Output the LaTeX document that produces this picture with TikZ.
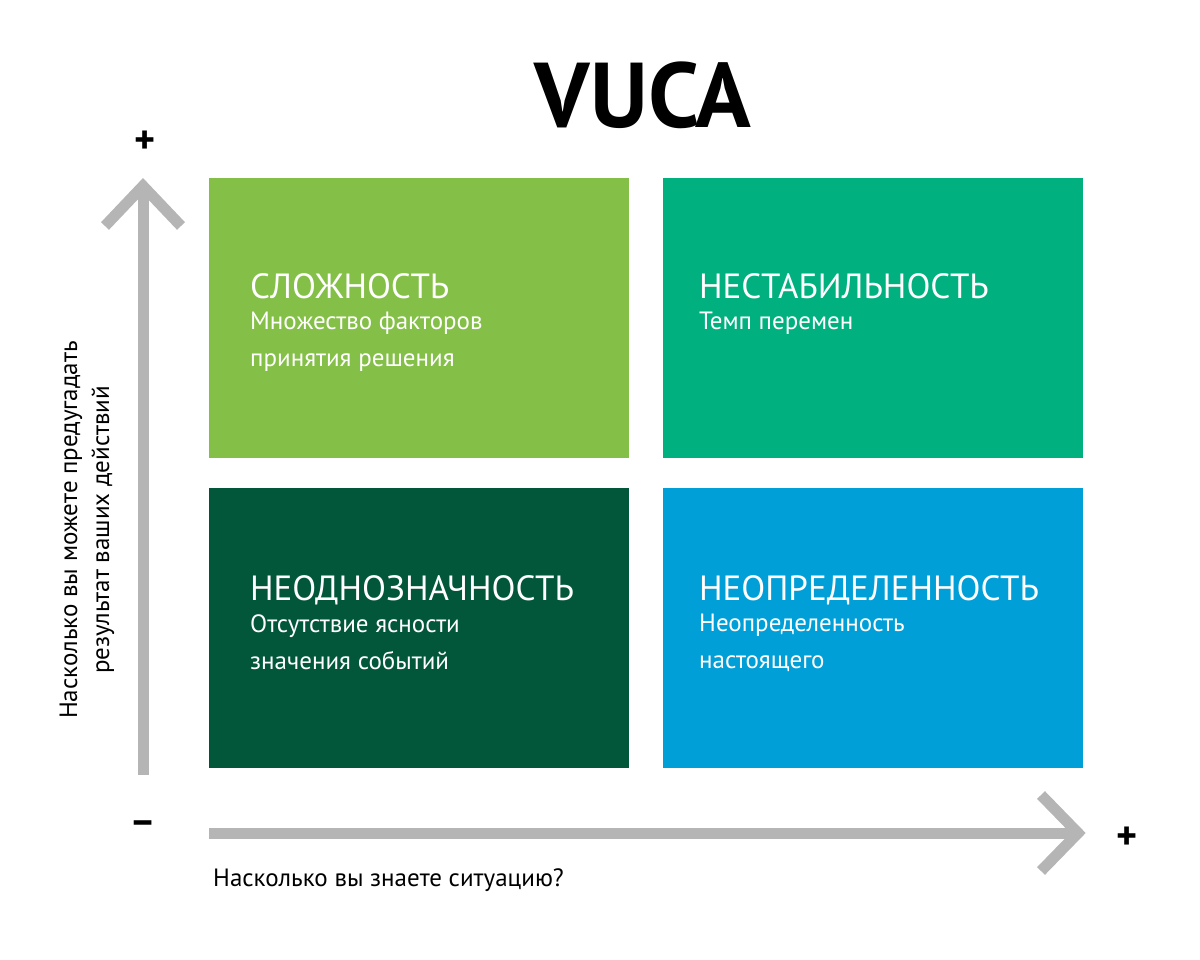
\documentclass[tikz,border=0pt]{standalone}
\usepackage{fontspec}
\setmainfont{PT Sans}
\definecolor{cLG}{HTML}{84BF47}
\definecolor{cTE}{HTML}{00B07F}
\definecolor{cDG}{HTML}{02573A}
\definecolor{cBL}{HTML}{009FD8}
\definecolor{cAX}{HTML}{B5B5B5}
\begin{document}
\begin{tikzpicture}[x=1pt,y=-1pt,
  quad/.style={minimum width=420pt,minimum height=280pt,inner sep=0pt,anchor=north west},
  qtitle/.style={anchor=base west,text=white,font=\fontsize{35}{40}\selectfont,inner sep=0pt},
  qsub/.style={anchor=north west,text=white,font=\fontsize{25}{37}\selectfont,align=left,inner sep=0pt},
  axis/.style={cAX,line width=11pt},
  lbl/.style={font=\fontsize{25}{32}\selectfont,inner sep=0pt}]
\useasboundingbox (0,0) rectangle (1200,959);
\node[font=\fontsize{92}{92}\selectfont\bfseries] (title) at (643,95) {VUCA};
\node[quad,fill=cLG] (q1) at (209,178) {};
\node[quad,fill=cTE] (q2) at (663,178) {};
\node[quad,fill=cDG] (q3) at (209,488) {};
\node[quad,fill=cBL] (q4) at (663,488) {};
\node[qtitle] (t1) at (250,298) {СЛОЖНОСТЬ};
\node[qsub] (s1) at (250,312) {Множество факторов\\принятия решения};
\node[qtitle] (t2) at (699,298) {НЕСТАБИЛЬНОСТЬ};
\node[qsub] (s2) at (699,312) {Темп перемен};
\node[qtitle] (t3) at (250,600) {НЕОДНОЗНАЧНОСТЬ};
\node[qsub] (s3) at (250,614) {Отсутствие ясности\\значения событий};
\node[qtitle] (t4) at (699,600) {НЕОПРЕДЕЛЕННОСТЬ};
\node[qsub] (s4) at (699,614) {Неопределенность\\настоящего};
% axes
\coordinate (vb) at (143,775);
\coordinate (vt) at (143,186);
\coordinate (hl) at (209,833);
\coordinate (hr) at (1078,833);
\draw[axis] (vb) -- (vt);
\draw[axis,line join=miter] (105,226) -- (143,186) -- (181,226);
\draw[axis] (hl) -- (hr);
\draw[axis,line join=miter] (1041,795) -- (1078,833) -- (1041,871);
\node[font=\fontsize{40}{40}\selectfont\bfseries] (p1) at (145,142) {+};
\node[font=\fontsize{40}{40}\selectfont\bfseries] (m1) at (143,829) {−};
\node[font=\fontsize{40}{40}\selectfont\bfseries] (p2) at (1127,838) {+};
\node[lbl,rotate=90,align=center] (vl) at (87,530) {Насколько вы можете предугадать\\результат ваших действий};
\node[lbl,anchor=west] (hlb) at (213,880) {Насколько вы знаете ситуацию?};
\end{tikzpicture}
\end{document}
